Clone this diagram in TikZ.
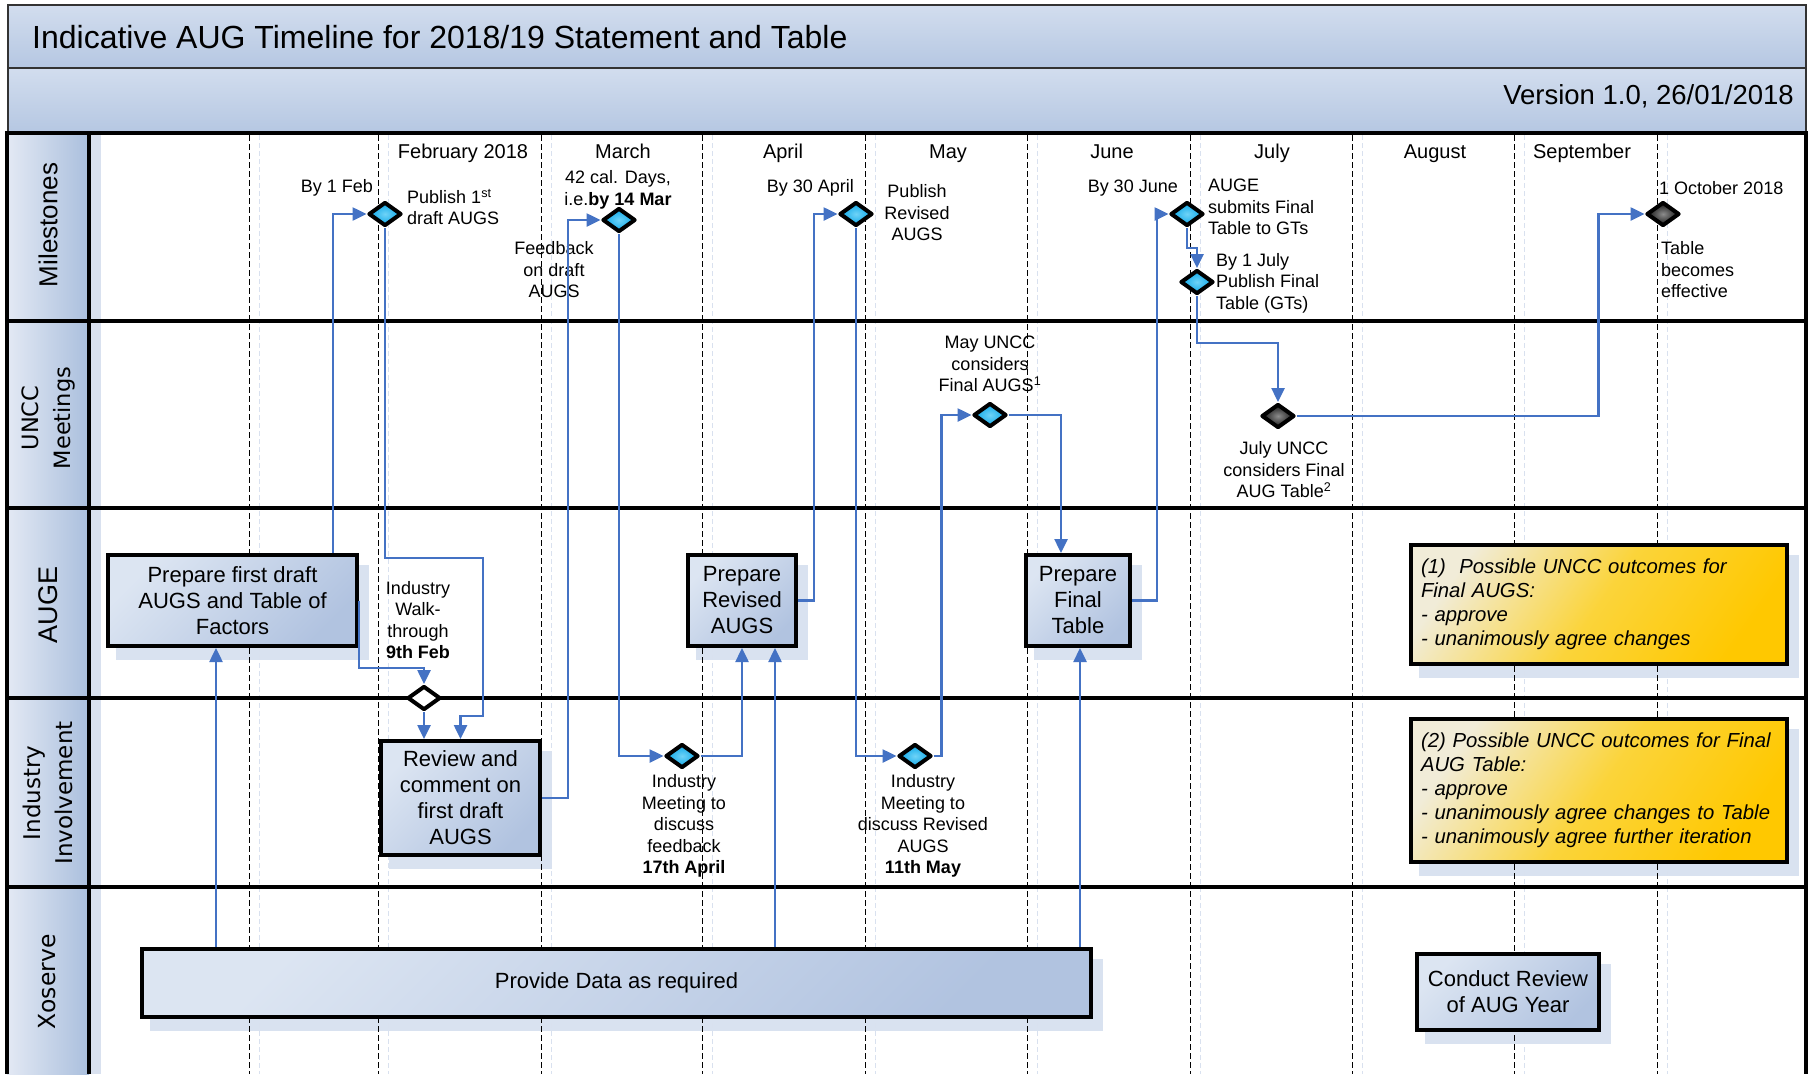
\documentclass[tikz,border=0pt]{standalone}
\usepackage{fontspec}
\setmainfont{Liberation Sans}
\newfontfamily\dvs{DejaVu Sans}
\usetikzlibrary{arrows.meta,shapes.geometric,calc}
\pgfdeclarelayer{bg}
\pgfsetlayers{bg,main}

\definecolor{connblue}{RGB}{68,114,196}
\definecolor{boxlight}{HTML}{DCE5F2}
\definecolor{boxdark}{HTML}{B1C3E0}
\definecolor{shadowc}{HTML}{D9E2F0}
\definecolor{bandlight}{HTML}{D2DDEE}
\definecolor{banddark}{HTML}{B5C7E2}
\definecolor{hdrlight}{HTML}{E3E9F4}
\definecolor{hdrdark}{HTML}{AABFDD}
\definecolor{yelllight}{HTML}{F1ECD8}
\definecolor{yellmid}{HTML}{FBD43A}
\definecolor{yelldark}{HTML}{FFC800}
\definecolor{cyanin}{HTML}{6FD3F7}
\definecolor{cyanout}{HTML}{0AA6E8}
\definecolor{faint}{HTML}{D9E1EF}

\begin{document}
\begin{tikzpicture}[x=1pt,y=-1pt,
  fs/.style={font=\fontsize{18}{21.5}\selectfont},
  lbl/.style={fs, inner sep=0pt, align=center},
  lbll/.style={fs, inner sep=0pt, align=left},
  month/.style={font=\fontsize{20}{24}\selectfont, inner sep=0pt, anchor=base},
  procbox/.style={draw=black, line width=4pt, top color=boxlight, bottom color=boxdark, shading angle=45, align=center, inner sep=0pt, font=\fontsize{22}{26}\selectfont},
  notebox/.style={draw=black, line width=4pt, top color=yelllight, bottom color=yelldark, middle color=yellmid, shading angle=55, align=left, font=\fontsize{20.3}{24}\selectfont\itshape, minimum width=376pt, text width=356pt, inner xsep=10pt},
  ms/.style={diamond, draw=black, line width=4pt, line join=round, inner sep=0pt, minimum width=33pt, minimum height=24pt},
  msblue/.style={ms, inner color=cyanin, outer color=cyanout},
  msblack/.style={ms, inner color=black!45, outer color=black!92},
  mswhite/.style={ms, fill=white},
  arr/.style={draw=connblue, line width=2.5pt, -{Triangle[length=14pt,width=13pt]}},
  lane/.style={line width=4pt, black},
  lanelabel/.style={rotate=90, inner sep=0pt, align=center}
]
\useasboundingbox (0,0) rectangle (1812,1074);

\begin{pgfonlayer}{bg}
\fill[white] (0,0) rectangle (1812,1074);
\shade[top color=bandlight, bottom color=banddark] (8,5) rectangle (1806,68);
\shade[top color=bandlight, bottom color=banddark] (8,68) rectangle (1806,133);
\foreach \a/\b in {133/321,321/508,508/698,698/887,887/1074} {
  \shade[left color=hdrlight, right color=hdrdark] (7,\a) rectangle (89,\b);
  \fill[faint] (89,\a) rectangle (101,\b);
}
\end{pgfonlayer}

% band borders
\draw[line width=1.5pt, black!80] (8,5) rectangle (1806,68);
\draw[line width=1.5pt, black!80] (8,68) -- (8,133) (1806,68) -- (1806,133);

% title texts
\node[anchor=west, inner sep=0pt, font=\fontsize{32}{38}\selectfont] (title) at (32,37) {Indicative AUG Timeline for 2018/19 Statement and Table};
\node[anchor=east, inner sep=0pt, font=\fontsize{27.5}{33}\selectfont] (version) at (1794,96) {Version 1.0, 26/01/2018};

% lanes
\draw[lane] (7,133) -- (1806,133);
\foreach \y in {321,508,698,887} \draw[lane] (7,\y) -- (1806,\y);
\draw[lane] (7,131) -- (7,1074);
\draw[lane] (1806,131) -- (1806,1074);
\draw[lane] (89,133) -- (89,1074);

% lane labels
\node[lanelabel, font=\fontsize{26}{30}\selectfont] (lmil) at (48,225) {Milestones};
\node[lanelabel, font=\dvs\fontsize{22.5}{31.5}\selectfont] (lun) at (48.5,418) {UNCC\\Meetings};
\node[lanelabel, font=\fontsize{27}{30}\selectfont] (laug) at (48.5,605) {AUGE};
\node[lanelabel, font=\dvs\fontsize{23}{32}\selectfont] (lind) at (48,793) {Industry\\Involvement};
\node[lanelabel, font=\dvs\fontsize{23.5}{28}\selectfont] (lxo) at (47,982) {Xoserve};

% months
\node[month] (mfeb) at (463,158) {February 2018};
\node[month] (mmar) at (623,158) {March};
\node[month] (mapr) at (783,158) {April};
\node[month] (mmay) at (948,158) {May};
\node[month] (mjun) at (1112,158) {June};
\node[month] (mjul) at (1272,158) {July};
\node[month] (maug) at (1435,158) {August};
\node[month] (msep) at (1582,158) {September};

% process boxes
\node[procbox, minimum width=249pt, minimum height=91pt] (box1) at (232.5,600.5) {Prepare first draft\\AUGS and Table of\\Factors};
\node[procbox, minimum width=159pt, minimum height=114pt] (box2) at (460.5,798) {Review and\\comment on\\first draft\\AUGS};
\node[procbox, minimum width=108pt, minimum height=91pt] (box3) at (742,600.5) {Prepare\\Revised\\AUGS};
\node[procbox, minimum width=104pt, minimum height=91pt] (box4) at (1078,600.5) {Prepare\\Final\\Table};
\node[procbox, minimum width=949pt, minimum height=68pt] (prov) at (616.5,983) {Provide Data as required};
\node[procbox, minimum width=182pt, minimum height=76pt] (conduct) at (1508,992) {Conduct Review\\of AUG Year};

% notes
\node[notebox, minimum height=119pt] (note1) at (1599,604.5) {(1)\ \ Possible UNCC outcomes for\\Final AUGS:\\- approve\\- unanimously agree changes};
\node[notebox, minimum height=143pt] (note2) at (1599,790.5) {(2) Possible UNCC outcomes for Final\\AUG Table:\\- approve\\- unanimously agree changes to Table\\- unanimously agree further iteration};

% milestones
\node[msblue] (d1) at (385,214) {};
\node[msblue] (d2) at (619,220) {};
\node[msblue] (d3) at (856,214) {};
\node[msblue] (d4) at (1187,214) {};
\node[msblue] (d5) at (1197,282) {};
\node[msblack] (d6) at (1663,214) {};
\node[msblue] (d7) at (990,415) {};
\node[msblack] (d8) at (1278,416) {};
\node[mswhite] (d9) at (424,698) {};
\node[msblue] (d10) at (682,756) {};
\node[msblue] (d11) at (915,756) {};

% labels
\node[lbl, anchor=east] (tby1feb) at (373,188) {By 1 Feb};
\node[lbll, anchor=west] (tpub1) at (407,207) {Publish 1\textsuperscript{st}\\draft AUGS};
\node[lbl] (t42) at (618,190) {42 cal. Days,\\i.e.\textbf{by 14 Mar}};
\node[lbl] (tfeed) at (554,270) {Feedback\\on draft\\AUGS};
\node[lbl, anchor=east] (tby30a) at (854,188) {By 30 April};
\node[lbl] (tpubrev) at (917,213) {Publish\\Revised\\AUGS};
\node[lbl, anchor=east] (tby30j) at (1178,188) {By 30 June};
\node[lbll, anchor=west] (tsubmit) at (1208,207) {AUGE\\submits Final\\Table to GTs};
\node[lbll, anchor=west] (tby1j) at (1216,283) {By 1 July\\Publish Final\\Table (GTs)};
\node[lbl, anchor=west] (toct) at (1659,188) {1 October 2018};
\node[lbll, anchor=west] (teff) at (1661,270) {Table\\becomes\\effective};
\node[lbl] (tmay) at (990,364) {May UNCC\\considers\\Final AUGS\textsuperscript{1}};
\node[lbl] (tjuly) at (1284,470) {July UNCC\\considers Final\\AUG Table\textsuperscript{2}};
\node[lbl] (twalk) at (418,620) {Industry\\Walk-\\through\\\textbf{9th Feb}};
\node[lbl] (tmeet1) at (684,826) {Industry\\Meeting to\\discuss\\feedback\\\textbf{17th April}};
\node[lbl] (tmeet2) at (923,826) {Industry\\Meeting to\\discuss Revised\\AUGS\\\textbf{11th May}};

% background: shadows and month dividers
\begin{pgfonlayer}{bg}
\foreach \n in {box1,box2,box3,box4,prov,conduct,note1,note2}
  \fill[shadowc] ([shift={(10,12)}]\n.south west) rectangle ([shift={(10,12)}]\n.north east);
\foreach \x in {249,378.5,541.5,702,865,1027,1190,1352,1514,1657} {
  \draw[faint, line width=1pt, dash pattern=on 5pt off 3pt] (\x+10,135) -- (\x+10,1074);
  \draw[black, line width=1pt, dash pattern=on 6pt off 3pt] (\x,135) -- (\x,1074);
}
\end{pgfonlayer}

% helper coordinates
\coordinate (b1n) at ([xshift=-26pt]box1.north east);
\coordinate (b1s) at ([xshift=-16.5pt]box1.south);
\coordinate (b3s) at ([xshift=33pt]box3.south);
\coordinate (b4s) at ([xshift=2pt]box4.south);
\coordinate (b4n) at ([xshift=-17pt]box4.north);

% connectors
\draw[arr] (b1n) |- (d1.west);
\draw[arr] (d1.south) |- (483,558) -- (483,716) -| (box2.north);
\draw[arr] (box1.east) -- ++(0,67.5) -| (d9.north);
\draw[arr] (d9.south) -- (d9.south |- box2.north);
\draw[arr] (box2.east) -- ++(26,0) |- (d2.west);
\draw[arr] (d2.south) |- (d10.west);
\draw[arr] (d10.east) -| (box3.south);
\draw[arr] (b3s |- prov.north) -- (b3s);
\draw[arr] (b1s |- prov.north) -- (b1s);
\draw[arr] (b4s |- prov.north) -- (b4s);
\draw[arr] (box3.east) -- ++(16,0) |- (d3.west);
\draw[arr] (d3.south) |- (d11.west);
\draw[arr] (d11.east) -- ++(8,0) |- (d7.west);
\draw[arr] (d7.east) -| (b4n);
\draw[arr] (box4.east) -- ++(25,0) |- (d4.west);
\draw[arr] (d4.south) -- ++(0,20) -| (d5.north);
\draw[arr] (d5.south) -- ++(0,47) -| (d8.north);
\draw[arr] (d8.east) -- ++(302,0) |- (d6.west);
\end{tikzpicture}
\end{document}
